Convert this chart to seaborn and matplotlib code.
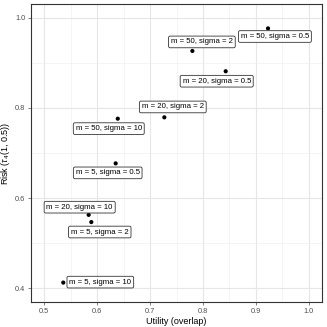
import numpy as np
import pandas as pd
import matplotlib.pyplot as plt
import seaborn as sns
from matplotlib.ticker import MultipleLocator

# values
labels = ["m = 50, sigma = 0.5", "m = 50, sigma = 2", "m = 20, sigma = 0.5",
          "m = 20, sigma = 2", "m = 50, sigma = 10", "m = 5, sigma = 0.5",
          "m = 20, sigma = 10", "m = 5, sigma = 2", "m = 5, sigma = 10"]
utility = [0.923, 0.780, 0.843, 0.727, 0.639, 0.635, 0.584, 0.589, 0.536]
risk = [0.976, 0.926, 0.881, 0.779, 0.776, 0.677, 0.563, 0.547, 0.413]
# repelled label positions (data units)
label_x = [0.936, 0.798, 0.826, 0.743, 0.622, 0.620, 0.567, 0.605, 0.606]
label_y = [0.958, 0.946, 0.859, 0.802, 0.754, 0.656, 0.580, 0.525, 0.414]

df = pd.DataFrame({"utility": utility, "risk": risk, "label": labels})

sns.set_theme(style="white")
plt.rcParams['font.family'] = ['Liberation Sans', 'DejaVu Sans']
plt.rcParams['mathtext.fontset'] = 'custom'
plt.rcParams['mathtext.rm'] = 'Liberation Sans'
plt.rcParams['mathtext.it'] = 'Liberation Sans:italic'

fig = plt.figure(figsize=(3.27, 3.27), dpi=100)
ax = fig.add_axes([31 / 327, 25 / 327, 291 / 327, 298 / 327])

sns.scatterplot(data=df, x="utility", y="risk", color="black", s=9,
                edgecolor="none", ax=ax, zorder=3)

for lab, lx, ly in zip(labels, label_x, label_y):
    ax.text(lx, ly, lab, fontsize=5.6, ha="center", va="center", color="black",
            zorder=4,
            bbox=dict(boxstyle="round,pad=0.3,rounding_size=0.2", fc="white",
                      ec="#333333", lw=0.6))

ax.set_xlim(0.475, 1.025)
ax.set_ylim(0.37, 1.03)
ax.xaxis.set_major_locator(MultipleLocator(0.1))
ax.xaxis.set_minor_locator(MultipleLocator(0.05))
ax.yaxis.set_major_locator(MultipleLocator(0.2))
ax.yaxis.set_minor_locator(MultipleLocator(0.1))
ax.grid(which="major", color="#e6e6e6", lw=0.8)
ax.grid(which="minor", color="#f0f0f0", lw=0.5)
ax.set_axisbelow(True)

for sp in ax.spines.values():
    sp.set_color("#333333")
    sp.set_linewidth(0.8)

ax.tick_params(axis="both", which="major", labelsize=5.3, colors="#4d4d4d",
               length=2, width=0.5, pad=2, left=True, bottom=True)
ax.tick_params(which="minor", length=0)
ax.set_xlabel("Utility (overlap)", fontsize=6.5, labelpad=2, color="black")
ax.set_ylabel(r"Risk ($\tau_4$(1, 0.5))", fontsize=6.5, labelpad=2,
              color="black")

fig.savefig("out.png", dpi=100)
